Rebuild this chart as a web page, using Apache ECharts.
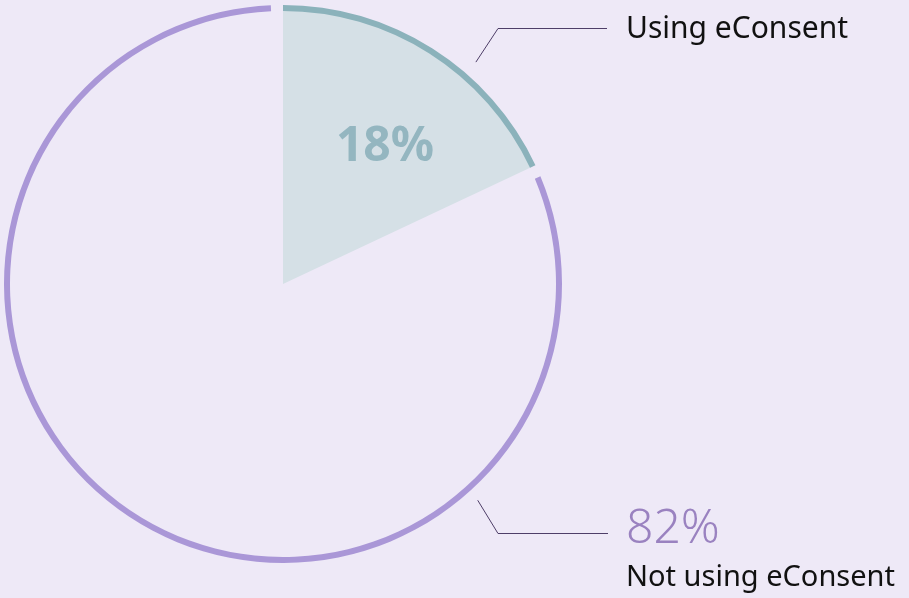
<!DOCTYPE html>
<html>
<head>
<meta charset="utf-8">
<script src="https://cdn.jsdelivr.net/npm/echarts@6/dist/echarts.min.js"></script>
<style>
  html, body { margin: 0; padding: 0; background: #eee9f7; }
  #chart { width: 909px; height: 598px; }
</style>
</head>
<body>
<div id="chart"></div>
<script>
var categories = ['Using eConsent', 'Not using eConsent']
var shares = [18, 82]

var cx = 283, cy = 284
// point on a circle, angle measured clockwise from 12 o'clock
function polar(deg, r) {
    var a = deg * Math.PI / 180
    return [cx + r * Math.sin(a), cy - r * Math.cos(a)]
}

var chart = echarts.init(document.getElementById('chart'))
var fontFamily = '"Noto Sans", sans-serif'

chart.setOption({
    backgroundColor: '#eee9f7',
    animation: false,
    series: [{
        // filled wedge for the 18% share
        type: 'pie',
        center: [cx, cy],
        radius: [0, 276],
        startAngle: 90,
        clockwise: true,
        silent: true,
        data: [
            { name: categories[0], value: shares[0], itemStyle: { color: '#d5e0e6' } },
            { name: categories[1], value: shares[1], itemStyle: { color: 'rgba(0,0,0,0)' }, label: { show: false } }
        ],
        label: {
            show: true,
            position: 'inside',
            formatter: '{c}%',
            color: '#94b6c0',
            fontFamily: fontFamily,
            fontWeight: 'bold',
            fontSize: 48
        },
        labelLine: { show: false },
        labelLayout: function (p) {
            return { x: 385, y: 147, align: 'center', verticalAlign: 'middle' }
        }
    }, {
        // teal rim
        type: 'pie',
        center: [cx, cy],
        radius: [273, 279],
        startAngle: 90,
        silent: true,
        data: [
            { name: categories[0], value: shares[0], itemStyle: { color: '#8bb2bb' } },
            { name: categories[1], value: shares[1], itemStyle: { color: 'rgba(0,0,0,0)' }, label: { show: false }, labelLine: { show: false } }
        ],
        label: {
            show: true,
            position: 'outside',
            overflow: 'none',
            formatter: '{b}',
            color: '#111111',
            fontFamily: fontFamily,
            fontSize: 30
        },
        labelLine: { show: true, lineStyle: { color: '#4e3e68', width: 1 } },
        labelLayout: function (p) {
            var s = polar(41, 294)
            return {
                x: 626, y: 29, width: 300, align: 'left', verticalAlign: 'middle',
                labelLinePoints: [s, [498, 28.5], [607, 28.5]]
            }
        }
    }, {
        // purple rim, with small gaps at both ends
        type: 'pie',
        center: [cx, cy],
        radius: [273, 279],
        startAngle: 90,
        padAngle: 5,
        silent: true,
        data: [
            { name: categories[0], value: shares[0], itemStyle: { color: 'rgba(0,0,0,0)' }, label: { show: false }, labelLine: { show: false } },
            { name: categories[1], value: shares[1], itemStyle: { color: '#aa97d7' } }
        ],
        label: {
            show: true,
            position: 'outside',
            overflow: 'none',
            formatter: function (p) {
                return '{p|' + p.value + '%}\n{n|' + p.name + '}'
            },
            rich: {
                p: { color: '#9a82c0', fontFamily: fontFamily, fontSize: 48, fontWeight: 300, lineHeight: 56 },
                n: { color: '#111111', fontFamily: fontFamily, fontSize: 29, lineHeight: 42 }
            }
        },
        labelLine: { show: true, lineStyle: { color: '#4e3e68', width: 1 } },
        labelLayout: function (p) {
            var s = polar(138, 291)
            return {
                x: 626, y: 550, width: 300, align: 'left', verticalAlign: 'middle',
                labelLinePoints: [s, [498, 533.5], [608, 533.5]]
            }
        }
    }]
})
</script>
</body>
</html>
